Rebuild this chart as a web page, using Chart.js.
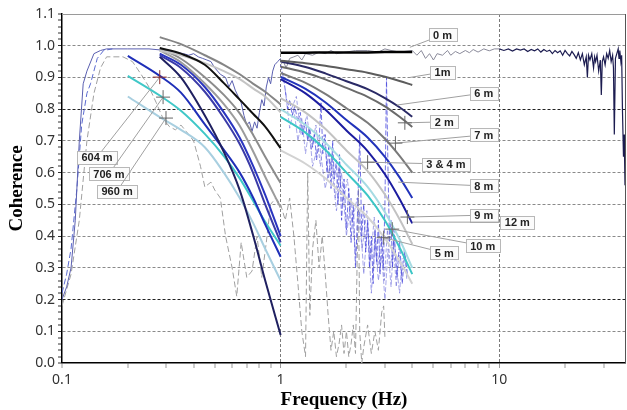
<!DOCTYPE html>
<html>
<head>
<meta charset="utf-8">
<script src="https://cdn.jsdelivr.net/npm/chart.js@4.4.0/dist/chart.umd.min.js"></script>
<style>
  html, body { margin: 0; padding: 0; background: #fff; }
</style>
</head>
<body>
<canvas id="chart" width="627" height="410"></canvas>
<script>
// tick labels
const xLabelValues = [0.1, 1, 10];
const xTickLabels = ['0.1', '1', '10'];
const yTickLabels = ['0.0', '0.1', '0.2', '0.3', '0.4', '0.5', '0.6', '0.7', '0.8', '0.9', '1.0', '1.1'];

// model curves, frequencies (Hz)
const fLeftLong = [0.2, 0.28, 0.35, 0.45, 0.55, 0.65, 0.75, 0.85, 1.0];
const fLeft = [0.28, 0.35, 0.45, 0.55, 0.65, 0.75, 0.85, 1.0];
const fRight = [1.0, 1.3, 1.6, 2.0, 2.5, 3.0, 3.5, 4.0];

// model coherence, 0.28 - 1 Hz
const left1 = [1.027, 1.005, 0.970, 0.940, 0.910, 0.880, 0.855, 0.815];
const leftBlack = [0.993, 0.975, 0.940, 0.882, 0.830, 0.785, 0.745, 0.677];
const left3 = [0.985, 0.970, 0.945, 0.920, 0.895, 0.865, 0.840, 0.790];
const left4 = [0.990, 0.959, 0.901, 0.845, 0.787, 0.718, 0.650, 0.567];
const left5 = [0.985, 0.948, 0.881, 0.816, 0.748, 0.666, 0.587, 0.490];
const left6 = [0.975, 0.940, 0.870, 0.790, 0.710, 0.620, 0.530, 0.400];
const left6b = [0.970, 0.930, 0.855, 0.772, 0.690, 0.598, 0.500, 0.380];
const leftNavy = [0.965, 0.900, 0.780, 0.665, 0.545, 0.400, 0.260, 0.088];
// model coherence, 0.2 - 1 Hz (604 m, 706 m, 960 m)
const leftBlue = [0.968, 0.905, 0.852, 0.752, 0.672, 0.600, 0.520, 0.437, 0.335];
const leftTeal = [0.905, 0.843, 0.795, 0.722, 0.652, 0.582, 0.510, 0.445, 0.370];
const leftLight = [0.840, 0.775, 0.735, 0.680, 0.600, 0.520, 0.440, 0.360, 0.260];

// model coherence, 1 - 4 Hz
const r0m = [0.978, 0.978, 0.979, 0.979, 0.979, 0.980, 0.980, 0.980];
const r1m = [0.953, 0.945, 0.937, 0.926, 0.915, 0.902, 0.889, 0.876];
const r6m = [0.950, 0.933, 0.913, 0.888, 0.863, 0.835, 0.806, 0.776];
const r2m = [0.934, 0.915, 0.894, 0.867, 0.839, 0.809, 0.776, 0.744];
const r7m = [0.914, 0.883, 0.848, 0.803, 0.757, 0.707, 0.653, 0.600];
const r34m = [0.902, 0.864, 0.822, 0.766, 0.711, 0.650, 0.585, 0.520];
const r9m = [0.895, 0.850, 0.799, 0.733, 0.668, 0.595, 0.517, 0.440];
const rGrey = [0.835, 0.789, 0.738, 0.670, 0.605, 0.531, 0.453, 0.375];
const rCyan = [0.800, 0.750, 0.695, 0.625, 0.555, 0.475, 0.390, 0.300];
const rTeal = [0.776, 0.726, 0.672, 0.600, 0.528, 0.449, 0.364, 0.280];
const rGrey2 = [0.670, 0.628, 0.582, 0.521, 0.460, 0.393, 0.321, 0.250];

// measured coherence
const measFreq = [0.1, 0.105, 0.11, 0.115, 0.12, 0.125, 0.13, 0.14, 0.15, 0.16, 0.2, 0.25, 0.3, 0.33, 0.36, 0.38, 0.4, 0.42, 0.44, 0.46, 0.48, 0.5, 0.53, 0.56, 0.58, 0.6, 0.62, 0.64, 0.66, 0.68, 0.7, 0.72, 0.74, 0.76, 0.78, 0.8, 0.82, 0.84, 0.86, 0.88, 0.9, 0.92, 0.94, 0.97, 1.0];
const measCoh = [0.20, 0.24, 0.30, 0.45, 0.70, 0.88, 0.92, 0.975, 0.985, 0.99, 0.99, 0.99, 0.985, 0.98, 0.975, 0.97, 0.975, 0.965, 0.96, 0.955, 0.95, 0.93, 0.91, 0.90, 0.87, 0.89, 0.86, 0.84, 0.82, 0.78, 0.75, 0.76, 0.73, 0.76, 0.74, 0.79, 0.83, 0.81, 0.87, 0.90, 0.88, 0.92, 0.94, 0.95, 0.96];

const dashBlueFreq = [0.1, 0.105, 0.11, 0.117, 0.123, 0.13, 0.135, 0.145, 0.155, 0.17];
const dashBlueCoh = [0.22, 0.28, 0.36, 0.55, 0.75, 0.85, 0.88, 0.96, 0.985, 0.99];

const greyFreq = [0.1, 0.11, 0.12, 0.13, 0.14, 0.15, 0.16, 0.19, 0.21, 0.23, 0.25, 0.27, 0.29, 0.31, 0.33, 0.35, 0.37, 0.4, 0.43, 0.45, 0.48, 0.5, 0.53, 0.56, 0.6, 0.63, 0.66, 0.7, 0.74, 0.78, 0.82, 0.86, 0.9, 0.95, 1.0, 1.05, 1.1, 1.15, 1.2, 1.25, 1.3, 1.33, 1.36, 1.4, 1.45, 1.5, 1.55, 1.6, 1.65, 1.7, 1.75, 1.8, 1.85, 1.9, 1.95, 2.0, 2.05, 2.1, 2.15, 2.2, 2.27, 2.3, 2.35, 2.4, 2.5, 2.6, 2.7, 2.8, 2.9, 2.96, 3.0];
const greyCoh = [0.18, 0.28, 0.45, 0.70, 0.85, 0.93, 0.965, 0.965, 0.95, 0.91, 0.87, 0.82, 0.77, 0.745, 0.735, 0.75, 0.73, 0.70, 0.62, 0.555, 0.57, 0.545, 0.52, 0.40, 0.30, 0.21, 0.38, 0.27, 0.29, 0.40, 0.27, 0.38, 0.50, 0.52, 0.50, 0.45, 0.52, 0.40, 0.25, 0.10, 0.02, 0.60, 0.15, 0.36, 0.45, 0.30, 0.40, 0.28, 0.15, 0.04, 0.10, 0.02, 0.06, 0.12, 0.03, 0.10, 0.02, 0.06, 0.12, 0.03, 0.55, 0.10, 0.00, 0.05, 0.12, 0.03, 0.10, 0.04, 0.16, 0.18, 0.08];

const noisyFreq = [1.0, 1.03, 1.06, 1.08, 1.1, 1.13, 1.16, 1.2, 1.23, 1.26, 1.3, 1.33, 1.36, 1.4, 1.43, 1.46, 1.5, 1.53, 1.56, 1.6, 1.63, 1.66, 1.7, 1.73, 1.76, 1.8, 1.83, 1.86, 1.9, 1.95, 2.0, 2.05, 2.1, 2.15, 2.2, 2.25, 2.3, 2.35, 2.4, 2.45, 2.5, 2.55, 2.6, 2.65, 2.7, 2.75, 2.8, 2.85, 2.9, 2.95, 3.0, 3.05, 3.1, 3.15, 3.2, 3.25, 3.3, 3.4, 3.5, 3.6, 3.7, 3.8];
const noisyCoh = [0.94, 0.90, 0.84, 0.80, 0.83, 0.78, 0.81, 0.76, 0.79, 0.72, 0.76, 0.70, 0.74, 0.68, 0.72, 0.64, 0.70, 0.82, 0.66, 0.72, 0.60, 0.68, 0.55, 0.70, 0.58, 0.64, 0.50, 0.66, 0.45, 0.58, 0.42, 0.55, 0.38, 0.50, 0.30, 0.48, 0.72, 0.40, 0.50, 0.35, 0.45, 0.30, 0.40, 0.25, 0.42, 0.32, 0.45, 0.28, 0.40, 0.30, 0.50, 0.90, 0.60, 0.38, 0.45, 0.30, 0.42, 0.27, 0.38, 0.25, 0.35, 0.28];
const noisy2Freq = [1.05, 1.1, 1.15, 1.2, 1.25, 1.3, 1.35, 1.4, 1.5, 1.6, 1.7, 1.8, 1.9, 2.0, 2.1, 2.2, 2.3, 2.4, 2.5, 2.6, 2.7, 2.8, 2.9, 3.0, 3.1, 3.2, 3.3, 3.4, 3.5, 3.6];
const noisy2Coh = [0.86, 0.74, 0.80, 0.70, 0.77, 0.66, 0.74, 0.62, 0.70, 0.55, 0.64, 0.48, 0.60, 0.40, 0.52, 0.34, 0.48, 0.28, 0.44, 0.22, 0.38, 0.26, 0.34, 0.20, 0.36, 0.24, 0.40, 0.30, 0.22, 0.33];
const noisy3Freq = [1.12, 1.18, 1.24, 1.32, 1.38, 1.45, 1.52, 1.58, 1.65, 1.72, 1.78, 1.85, 1.92, 2.02, 2.12, 2.24, 2.36, 2.48, 2.58, 2.68, 2.78, 2.88, 2.98, 3.08, 3.18, 3.28, 3.38, 3.48, 3.58, 3.68, 3.78];
const noisy3Coh = [0.80, 0.84, 0.72, 0.78, 0.67, 0.75, 0.62, 0.72, 0.58, 0.66, 0.52, 0.62, 0.50, 0.58, 0.44, 0.52, 0.36, 0.48, 0.32, 0.46, 0.30, 0.40, 0.26, 0.42, 0.30, 0.38, 0.24, 0.34, 0.27, 0.36, 0.26];

const zeroFreq = [1.0, 1.03, 1.06, 1.1, 1.15, 1.2, 1.25, 1.3, 1.4, 1.5, 1.6, 1.7, 1.8, 2.0, 2.2, 2.5, 2.8, 3.0, 3.2, 3.5, 4.0, 4.2, 4.4, 4.6, 4.8, 5.0, 5.2, 5.5, 5.8, 6.0, 6.3, 6.6, 7, 7.3, 7.6, 8, 8.5, 9, 9.5, 10];
const zeroCoh = [0.94, 0.95, 0.93, 0.96, 0.965, 0.97, 0.955, 0.975, 0.97, 0.98, 0.975, 0.985, 0.975, 0.98, 0.985, 0.985, 0.98, 0.99, 0.985, 0.98, 0.985, 0.97, 0.985, 0.96, 0.975, 0.955, 0.975, 0.97, 0.985, 0.97, 0.982, 0.975, 0.985, 0.978, 0.988, 0.98, 0.99, 0.984, 0.99, 0.99];
const highFreq = [10, 10.5, 11, 11.5, 12, 12.5, 13, 13.5, 14, 14.5, 15, 15.5, 16, 16.5, 17, 17.5, 18, 18.5, 19, 19.5, 20, 20.5, 21, 21.5, 22, 22.5, 23, 23.5, 24, 24.5, 25, 25.3, 25.6, 26, 26.5, 27, 27.3, 27.6, 28, 28.5, 29, 29.3, 29.6, 30, 30.5, 31, 31.5, 32, 32.5, 33, 33.3, 33.6, 34, 34.5, 35, 35.3, 35.6, 36, 36.3, 36.6, 37, 37.3, 37.6, 38];
const highCoh = [0.99, 0.985, 0.99, 0.983, 0.99, 0.986, 0.99, 0.982, 0.988, 0.984, 0.99, 0.98, 0.988, 0.982, 0.986, 0.975, 0.985, 0.978, 0.984, 0.97, 0.985, 0.975, 0.968, 0.982, 0.972, 0.96, 0.978, 0.955, 0.975, 0.94, 0.965, 0.90, 0.97, 0.955, 0.975, 0.93, 0.965, 0.95, 0.97, 0.92, 0.955, 0.845, 0.95, 0.965, 0.94, 0.975, 0.96, 0.985, 0.95, 0.97, 0.93, 0.72, 0.96, 0.975, 0.99, 0.96, 0.985, 0.95, 0.97, 0.80, 0.65, 0.72, 0.56, 0.58];

// callout boxes: text, box centre and tip (Hz, coherence)
const callouts = [
  { text: '0 m', box: [5.5, 1.034], tip: [3.9, 0.995], cross: false },
  { text: '1m', box: [5.5, 0.917], tip: [3.9, 0.900], cross: false },
  { text: '6 m', box: [8.5, 0.851], tip: [3.4, 0.813], cross: false },
  { text: '2 m', box: [5.6, 0.760], tip: [3.7, 0.757], cross: true },
  { text: '7 m', box: [8.5, 0.719], tip: [3.35, 0.693], cross: true },
  { text: '3 & 4 m', box: [5.7, 0.627], tip: [2.5, 0.633], cross: true },
  { text: '8 m', box: [8.5, 0.558], tip: [3.45, 0.570], cross: false },
  { text: '9 m', box: [8.5, 0.466], tip: [3.8, 0.460], cross: true },
  { text: '12 m', box: [12.1, 0.444], tip: [4.0, 0.444], cross: false },
  { text: '10 m', box: [8.4, 0.369], tip: [3.24, 0.422], cross: true },
  { text: '5 m', box: [5.6, 0.347], tip: [2.96, 0.395], cross: true },
  { text: '604 m', box: [0.1446, 0.649], tip: [0.28, 0.901], cross: true, crossColor: '#8b2e2e' },
  { text: '706 m', box: [0.164, 0.596], tip: [0.29, 0.838], cross: true },
  { text: '960 m', box: [0.1786, 0.542], tip: [0.299, 0.772], cross: true }
];

function curve(fs, ys, color, width, dash, mode) {
  return {
    data: fs.map((f, i) => ({ x: f, y: ys[i] })),
    borderColor: color,
    borderWidth: width,
    borderDash: dash || [],
    pointRadius: 0,
    tension: 0,
    cubicInterpolationMode: mode,
    fill: false
  };
}

const smooth = (fs, ys, color, width) => curve(fs, ys, color, width, null, 'monotone');
const noisy = (fs, ys, color, width, dash) => curve(fs, ys, color, width, dash, 'default');

const datasets = [
  // model curves on top
  smooth(fRight, r0m, '#000000', 2.5),
  smooth(fRight, r1m, '#5c5c5c', 2),
  smooth(fRight, r6m, '#2a2a66', 2),
  smooth(fRight, r2m, '#6a6a6a', 2),
  smooth(fRight, r7m, '#7a7a7a', 2),
  smooth(fRight, r34m, '#2233bb', 2),
  smooth(fRight, r9m, '#1c1ca0', 2),
  smooth(fRight, rGrey, '#c2c2c2', 2),
  smooth(fRight, rCyan, '#a6dbe3', 2),
  smooth(fRight, rTeal, '#3cc6c6', 2),
  smooth(fRight, rGrey2, '#d2d2d2', 2),
  smooth(fLeft, left1, '#858585', 2),
  smooth(fLeft, leftBlack, '#111111', 2),
  smooth(fLeft, left3, '#c4c4c4', 2),
  smooth(fLeft, left4, '#8c8c8c', 2),
  smooth(fLeft, left5, '#9c9c9c', 2),
  smooth(fLeft, left6, '#2a35c0', 2),
  smooth(fLeft, left6b, '#3a3aa8', 2),
  smooth(fLeft, leftNavy, '#1f2060', 2),
  smooth(fLeftLong, leftBlue, '#1f2fb8', 2),
  smooth(fLeftLong, leftTeal, '#40c8c8', 2),
  smooth(fLeftLong, leftLight, '#a8cfe0', 2),
  // measured coherence underneath
  noisy(zeroFreq, zeroCoh, '#8a8a9a', 1),
  noisy(highFreq, highCoh, '#1c1c50', 1.2),
  noisy(measFreq, measCoh, '#5a5fb0', 1),
  noisy(dashBlueFreq, dashBlueCoh, '#5a6ad0', 1, [6, 3]),
  noisy(noisyFreq, noisyCoh, 'rgba(70,70,220,0.75)', 1, [5, 2]),
  noisy(noisy2Freq, noisy2Coh, 'rgba(110,110,220,0.6)', 1, [5, 2]),
  noisy(noisy3Freq, noisy3Coh, 'rgba(90,90,210,0.55)', 1, [4, 2]),
  noisy(greyFreq, greyCoh, '#a0a0a0', 1, [6, 3])
];

const callout_plugin = {
  id: 'callouts',
  afterDatasetsDraw(chart) {
    const ctx = chart.ctx;
    const xs = chart.scales.x;
    const ys = chart.scales.y;
    const area = chart.chartArea;

    ctx.save();
    // frame: top and right edges
    ctx.strokeStyle = '#9a9a9a';
    ctx.lineWidth = 1;
    ctx.beginPath();
    ctx.moveTo(area.left, area.top + 0.5);
    ctx.lineTo(area.right, area.top + 0.5);
    ctx.stroke();
    ctx.strokeStyle = '#555';
    ctx.beginPath();
    ctx.moveTo(area.right - 0.5, area.top);
    ctx.lineTo(area.right - 0.5, area.bottom);
    ctx.stroke();

    ctx.font = 'bold 11px "Liberation Sans Narrow", "Liberation Sans", sans-serif';
    ctx.textAlign = 'center';
    ctx.textBaseline = 'middle';
    callouts.forEach(c => {
      const bx = xs.getPixelForValue(c.box[0]);
      const by = ys.getPixelForValue(c.box[1]);
      const tx = xs.getPixelForValue(c.tip[0]);
      const ty = ys.getPixelForValue(c.tip[1]);
      ctx.strokeStyle = '#a0a0a0';
      ctx.lineWidth = 1;
      ctx.beginPath();
      ctx.moveTo(bx, by);
      ctx.lineTo(tx, ty);
      ctx.stroke();
      if (c.cross) {
        ctx.strokeStyle = c.crossColor || '#666';
        ctx.beginPath();
        ctx.moveTo(tx - 7, ty);
        ctx.lineTo(tx + 7, ty);
        ctx.moveTo(tx, ty - 7);
        ctx.lineTo(tx, ty + 7);
        ctx.stroke();
      }
      const w = ctx.measureText(c.text).width + 9;
      const h = 13;
      ctx.fillStyle = '#fbfbfb';
      ctx.fillRect(Math.round(bx - w / 2) + 0.5, Math.round(by - h / 2) + 0.5, Math.round(w), h);
      ctx.strokeStyle = '#b8b8b8';
      ctx.strokeRect(Math.round(bx - w / 2) + 0.5, Math.round(by - h / 2) + 0.5, Math.round(w), h);
      ctx.fillStyle = '#222';
      ctx.fillText(c.text, bx, by + 1);
    });
    ctx.restore();
  }
};

const isMajorY = v => Math.round(v * 100) % 10 === 0;

new Chart(document.getElementById('chart').getContext('2d'), {
  type: 'line',
  data: { datasets: datasets },
  options: {
    responsive: false,
    animation: false,
    layout: { padding: { top: 14, right: 1, left: 0, bottom: 0 } },
    plugins: { legend: { display: false }, tooltip: { enabled: false } },
    scales: {
      x: {
        type: 'logarithmic',
        min: 0.1,
        max: 38,
        afterBuildTicks: scale => {
          const vals = [];
          [0.1, 1, 10].forEach(d => {
            for (let k = 1; k <= 9; k++) {
              if (d * k <= 38) vals.push(+(d * k).toFixed(2));
            }
          });
          scale.ticks = vals.map(v => ({ value: v }));
        },
        afterFit: scale => { scale.height = 47; },
        ticks: {
          autoSkip: false,
          maxRotation: 0,
          padding: 4,
          color: '#333',
          font: { family: '"Noto Sans", sans-serif', size: 14 },
          callback: v => {
            const i = xLabelValues.indexOf(v);
            return i >= 0 ? xTickLabels[i] : '';
          }
        },
        grid: {
          color: c => (c.tick && (c.tick.value === 1 || c.tick.value === 10)) ? '#7a7a7a' : 'rgba(0,0,0,0)',
          lineWidth: c => (c.tick && (c.tick.value === 1 || c.tick.value === 10)) ? 1 : 0,
          tickColor: '#999',
          tickLength: 5,
          tickWidth: 1,
          tickBorderDash: []
        },
        border: { display: true, color: '#000', width: 1.5, dash: [3, 2] },
        title: {
          display: true,
          text: 'Frequency (Hz)',
          color: '#000',
          font: { family: '"Liberation Serif", serif', size: 19, weight: 'bold', lineHeight: 1 },
          padding: { top: 0, bottom: 0 }
        }
      },
      y: {
        type: 'linear',
        min: 0,
        max: 1.1,
        afterBuildTicks: scale => {
          const vals = [];
          for (let k = 0; k <= 55; k++) vals.push(k / 50);
          scale.ticks = vals.map(v => ({ value: v }));
        },
        afterFit: scale => { scale.width = 62; },
        ticks: {
          autoSkip: false,
          padding: 3,
          color: '#333',
          font: { family: '"Noto Sans", sans-serif', size: 14 },
          callback: v => isMajorY(v) ? yTickLabels[Math.round(v * 10)] : ''
        },
        grid: {
          color: c => {
            if (!c.tick) return 'rgba(0,0,0,0)';
            const k = Math.round(c.tick.value * 100);
            if (k % 10 !== 0 || k === 0 || k === 110) return 'rgba(0,0,0,0)';
            return (k === 20 || k === 80) ? '#222' : '#8a8a8a';
          },
          lineWidth: c => {
            if (!c.tick) return 0;
            const k = Math.round(c.tick.value * 100);
            return (k % 10 !== 0 || k === 0 || k === 110) ? 0 : 1;
          },
          tickColor: '#333',
          tickLength: 4,
          tickWidth: 1,
          tickBorderDash: []
        },
        border: { display: true, color: '#000', width: 1.5, dash: [3, 2] },
        title: {
          display: true,
          text: 'Coherence',
          color: '#000',
          font: { family: '"Liberation Serif", serif', size: 19, weight: 'bold', lineHeight: 1 },
          padding: { top: 8, bottom: 0 }
        }
      }
    }
  },
  plugins: [callout_plugin]
});
</script>
</body>
</html>
